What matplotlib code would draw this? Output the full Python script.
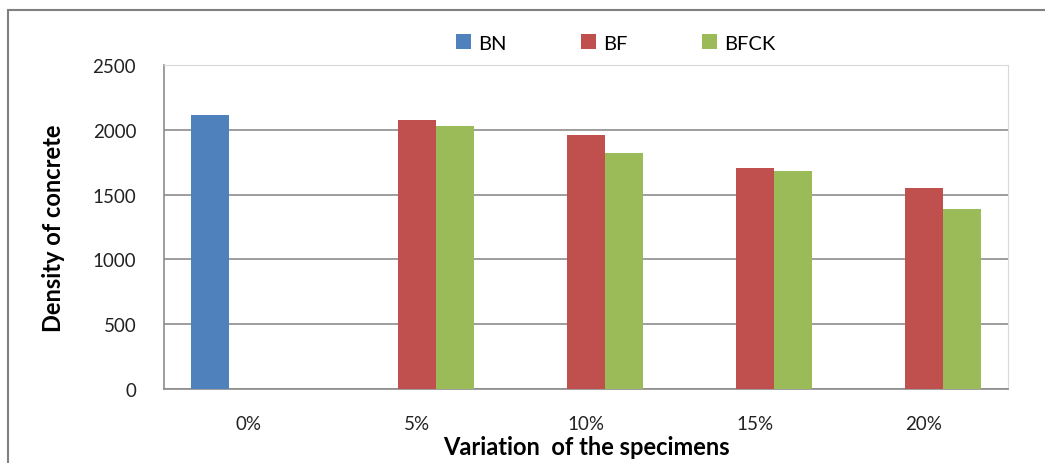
import matplotlib
matplotlib.use('Agg')
import matplotlib.pyplot as plt
import matplotlib.patches as patches
import numpy as np

# data
categories = ['0%', '5%', '10%', '15%', '20%']
series_names = ['BN', 'BF', 'BFCK']
bn = [2118, 0, 0, 0, 0]
bf = [0, 2073, 1962, 1705, 1548]
bfck = [0, 2032, 1823, 1684, 1386]
colors = ['#4F81BD', '#C0504D', '#9BBB59']

plt.rcParams['font.family'] = ['Lato', 'DejaVu Sans']

fig = plt.figure(figsize=(10.45, 4.64), dpi=100)
ax = fig.add_axes([164 / 1045, 74 / 464, 844 / 1045, 324 / 464])

x = np.arange(len(categories))
w = 0.225
for i, (vals, name, c) in enumerate(zip([bn, bf, bfck], series_names, colors)):
    v = np.array(vals, dtype=float)
    v[v == 0] = np.nan
    ax.bar(x + (i - 1) * w, v, width=w, color=c, label=name, zorder=3)

ax.set_xlim(-0.5, len(categories) - 0.5)
ax.set_ylim(0, 2500)
ax.set_yticks(range(0, 2501, 500))
ax.set_xticks(x)
ax.set_xticklabels(categories)
ax.tick_params(axis='both', length=0, labelsize=13.5, colors='#222222')
ax.tick_params(axis='y', pad=20)
ax.tick_params(axis='x', pad=19)
ax.grid(axis='y', color='#8c8c8c', linewidth=1.2, zorder=0)

for s in ['top', 'right']:
    ax.spines[s].set_color('#d9d9d9')
for s in ['left', 'bottom']:
    ax.spines[s].set_color('#8c8c8c')
    ax.spines[s].set_linewidth(1.2)

ax.set_ylabel('Density of concrete', fontsize=17, fontweight='bold', labelpad=20)
ax.set_xlabel('Variation  of the specimens', fontsize=17, fontweight='bold', labelpad=2)

ax.legend(loc='lower center', bbox_to_anchor=(0.535, 0.985), ncol=3, frameon=False,
          fontsize=14.5, handlelength=0.75, handleheight=0.75, columnspacing=3.7,
          handletextpad=0.35)

# outer chart border (cut off at right and bottom in the reference)
fig.patches.append(patches.Rectangle((8 / 1045, -0.1), 1.2, 1 - 11 / 464 + 0.1,
                                     transform=fig.transFigure, fill=False,
                                     edgecolor='#808080', linewidth=1.5))

plt.savefig('out.png', dpi=100)
